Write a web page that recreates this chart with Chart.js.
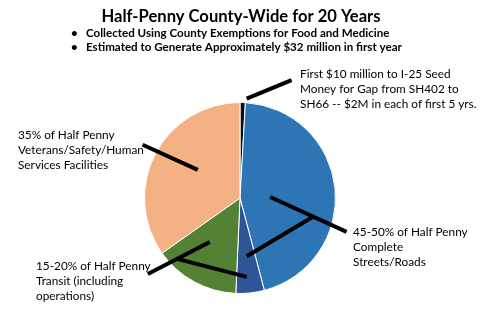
<!DOCTYPE html>
<html>
<head>
<meta charset="utf-8">
<script src="https://cdn.jsdelivr.net/npm/chart.js@4/dist/chart.umd.min.js"></script>
<style>
  html, body { margin: 0; padding: 0; background: #fff; }
  #wrap { width: 480px; height: 328px; position: relative; }
</style>
</head>
<body>
<div id="wrap"><canvas id="c"></canvas></div>
<script>
// Allocation of the half-penny sales tax (percent of revenue), clockwise from 12 o'clock
const categories = [
  'I-25 Seed Money',
  'Complete Streets/Roads',
  'Roads or Transit (flex share)',
  'Transit',
  'Veterans/Safety/Human Services Facilities'
];
const shares = [0.9, 45, 4.8, 14.5, 34.8];
const sliceColors = ['#0d0d0d', '#2E75B6', '#2F5597', '#548235', '#F4B183'];

const titleText = 'Half-Penny County-Wide for 20 Years';
const bulletLines = [
  'Collected Using County Exemptions for Food and Medicine',
  'Estimated to Generate Approximately $32 million in first year'
];
const seedLabel = ['First $10 million to I-25 Seed', 'Money for Gap from SH402 to', 'SH66 -- $2M in each of first 5 yrs.'];
const roadsLabel = ['45-50% of Half Penny', 'Complete', 'Streets/Roads'];
const transitLabel = ['15-20% of Half Penny', 'Transit (including', 'operations)'];
const facilitiesLabel = ['35% of Half Penny', 'Veterans/Safety/Human', 'Services Facilities'];

// Callout placement: text anchors in canvas px, leader segments in units of the pie radius from its centre
const callouts = [
  { lines: seedLabel, x: 300, y: 74, leaders: [[0.07, -1.04, 0.54, -1.235]] },
  { lines: roadsLabel, x: 353, y: 232, leaders: [[0.316, -0.01, 1.116, 0.354], [0.765, 0.197, 0.07, 0.61]] },
  { lines: transitLabel, x: 36, y: 266, leaders: [[-0.316, 0.46, -0.965, 0.795], [-0.666, 0.635, 0.07, 0.826]] },
  { lines: facilitiesLabel, x: 18, y: 135, leaders: [[-1.02, -0.558, -0.442, -0.295]] }
];

const FONT = 'Lato, "Open Sans", "Liberation Sans", sans-serif';

const annotations = {
  id: 'annotations',
  afterDraw(chart) {
    const ctx = chart.ctx;
    const arc = chart.getDatasetMeta(0).data[0];
    const cx = arc.x, cy = arc.y, r = arc.outerRadius;
    ctx.save();
    // Title
    ctx.fillStyle = '#000';
    ctx.textBaseline = 'middle';
    ctx.textAlign = 'center';
    ctx.font = 'bold 16.6px ' + FONT;
    ctx.fillText(titleText, 241, 17);
    // Bullets
    ctx.textAlign = 'left';
    ctx.font = 'bold 11.6px ' + FONT;
    bulletLines.forEach((t, i) => {
      const y = 33 + i * 14.5;
      ctx.fillText('\u2022', 71, y);
      ctx.fillText(t, 86, y);
    });
    // Leader lines
    ctx.strokeStyle = '#000';
    ctx.lineWidth = 4;
    ctx.lineCap = 'butt';
    callouts.forEach(c => {
      c.leaders.forEach(s => {
        ctx.beginPath();
        ctx.moveTo(cx + s[0] * r, cy + s[1] * r);
        ctx.lineTo(cx + s[2] * r, cy + s[3] * r);
        ctx.stroke();
      });
    });
    // Callout text
    ctx.font = '11.8px ' + FONT;
    callouts.forEach(c => {
      c.lines.forEach((t, i) => ctx.fillText(t, c.x, c.y + i * 15));
    });
    ctx.restore();
  }
};

new Chart(document.getElementById('c'), {
  type: 'pie',
  data: {
    labels: categories,
    datasets: [{
      data: shares,
      backgroundColor: sliceColors,
      borderColor: '#ffffff',
      borderWidth: 1
    }]
  },
  options: {
    responsive: true,
    maintainAspectRatio: false,
    animation: false,
    layout: { padding: { top: 102, bottom: 34, left: 144, right: 144 } },
    plugins: {
      legend: { display: false },
      tooltip: { enabled: false },
      title: { display: false }
    }
  },
  plugins: [annotations]
});
</script>
</body>
</html>
